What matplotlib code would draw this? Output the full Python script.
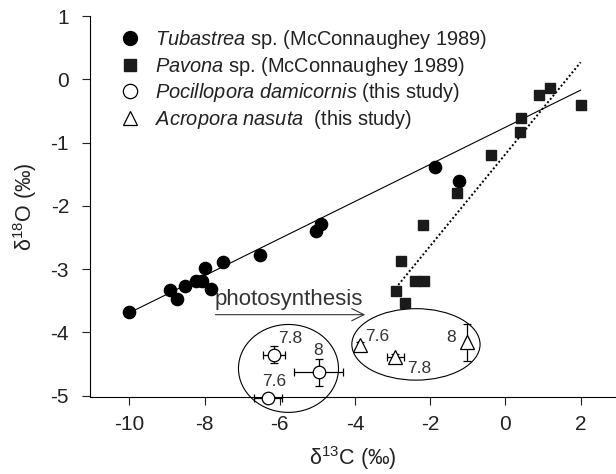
import matplotlib.pyplot as plt
from matplotlib.lines import Line2D
from matplotlib.patches import Ellipse

plt.rcParams["font.family"] = ["Liberation Sans", "DejaVu Sans"]
plt.rcParams["mathtext.fontset"] = "custom"
plt.rcParams["mathtext.rm"] = "Liberation Sans"
plt.rcParams["mathtext.it"] = "Liberation Sans:italic"

# Tubastrea sp. (McConnaughey 1989)
tub_c13 = [-10.02, -8.91, -8.73, -8.53, -8.22, -8.08, -8.0, -7.82, -7.52, -6.52, -5.03, -4.91, -1.87, -1.23]
tub_o18 = [-3.67, -3.33, -3.47, -3.27, -3.18, -3.18, -2.98, -3.32, -2.88, -2.78, -2.39, -2.28, -1.39, -1.60]

# Pavona sp. (McConnaughey 1989)
pav_c13 = [-1.29, -2.18, -2.78, -2.40, -2.16, -2.91, -2.67, -0.38, 0.39, 0.41, 0.89, 1.18, 2.0]
pav_o18 = [-1.80, -2.31, -2.87, -3.18, -3.18, -3.35, -3.53, -1.20, -0.83, -0.61, -0.25, -0.14, -0.40]

# Pocillopora damicornis (this study), pH 7.8 / 8 / 7.6
poc_c13 = [-6.15, -4.97, -6.31]
poc_o18 = [-4.35, -4.63, -5.04]
poc_xerr = [0.29, 0.64, 0.38]
poc_yerr = [0.13, 0.21, 0.05]
poc_ph = ["7.8", "8", "7.6"]

# Acropora nasuta (this study), pH 7.6 / 7.8 / 8
acr_c13 = [-3.88, -2.93, -1.03]
acr_o18 = [-4.20, -4.39, -4.16]
acr_xerr = [0.05, 0.22, 0.05]
acr_yerr = [0.04, 0.05, 0.29]
acr_ph = ["7.6", "7.8", "8"]

# regression lines (end points)
tub_fit_x, tub_fit_y = [-10.0, 2.0], [-3.69, -0.17]
pav_fit_x, pav_fit_y = [-2.85, 2.0], [-3.25, 0.27]

xticks = [-10, -8, -6, -4, -2, 0, 2]
yticks = [-5, -4, -3, -2, -1, 0, 1]

fig = plt.figure(figsize=(6.16, 4.74), dpi=100)
ax = fig.add_axes([0.146, 0.162, 0.854, 0.804])
FS_TICK = 15
FS_LEG = 14.4
FS_NUM = 12.5
FS_LAB = 15.5

ax.plot(tub_fit_x, tub_fit_y, color="black", lw=0.8)
ax.plot(pav_fit_x, pav_fit_y, color="black", lw=1.4, ls=(0, (1, 1.2)))

ax.plot(tub_c13, tub_o18, "o", color="black", ms=8.8, mec="black", ls="none")
ax.plot(pav_c13, pav_o18, "s", color="#1a1a1a", ms=7.8, mec="#1a1a1a", ls="none")

ax.errorbar(poc_c13, poc_o18, xerr=poc_xerr, yerr=poc_yerr, fmt="o", ms=9, mfc="white",
            mec="black", mew=0.9, ecolor="black", elinewidth=0.9, capsize=3, clip_on=False, zorder=4)
ax.errorbar(acr_c13, acr_o18, xerr=acr_xerr, yerr=acr_yerr, fmt="^", ms=10, mfc="white",
            mec="black", mew=0.9, ecolor="black", elinewidth=0.9, capsize=3, zorder=4)

# pH labels next to each coral point
poc_off = [(11.5, 11.5), (0, 16), (4.5, 12)]
for x, y, t, off in zip(poc_c13, poc_o18, poc_ph, poc_off):
    ax.annotate(t, (x, y), xytext=off, textcoords="offset points", ha="center", va="center",
                fontsize=FS_NUM, color="#333333", annotation_clip=False)
acr_off = [(13, 6), (17, -8), (-11.5, 3.6)]
for x, y, t, off in zip(acr_c13, acr_o18, acr_ph, acr_off):
    ax.annotate(t, (x, y), xytext=off, textcoords="offset points", ha="center", va="center",
                fontsize=FS_NUM, color="#333333", annotation_clip=False)

ax.add_patch(Ellipse((-5.77, -4.57), 2.66, 1.39, fill=False, lw=0.8, clip_on=False))
ax.add_patch(Ellipse((-2.38, -4.19), 3.41, 1.13, fill=False, lw=0.8, clip_on=False))

ax.annotate("", xy=(-3.73, -3.72), xytext=(-7.71, -3.72),
            arrowprops=dict(arrowstyle="->", lw=0.8, color="#333333",
                            shrinkA=0, shrinkB=0, mutation_scale=22))
ax.text(-7.73, -3.56, "photosynthesis", fontsize=16, color="#333333", va="baseline")

handles = [
    Line2D([], [], marker="o", color="black", ls="none", ms=10),
    Line2D([], [], marker="s", color="#1a1a1a", ls="none", ms=8.4),
    Line2D([], [], marker="o", mfc="white", mec="black", mew=0.9, ls="none", ms=10.3),
    Line2D([], [], marker="^", mfc="white", mec="black", mew=0.9, ls="none", ms=10.5),
]
labels = [
    r"$\it{Tubastrea}$ sp. (McConnaughey 1989)",
    r"$\it{Pavona}$ sp. (McConnaughey 1989)",
    r"$\it{Pocillopora\ damicornis}$ (this study)",
    r"$\it{Acropora\ nasuta}$  (this study)",
]
leg = ax.legend(handles, labels, loc="upper left", bbox_to_anchor=(0.042, 0.99), frameon=False,
                fontsize=FS_LEG, handlelength=1.0, handletextpad=0.75, labelspacing=0.18,
                borderaxespad=0)
for t in leg.get_texts():
    t.set_color("#222222")

ax.set_xlim(-11.05, 2.94)
ax.set_ylim(-5.025, 1.0)
ax.set_xticks(xticks, [str(v) for v in xticks])
ax.set_yticks(yticks, [str(v) for v in yticks])
ax.tick_params(labelsize=FS_TICK, length=6, width=0.8, direction="out", colors="#222222")
ax.tick_params(axis="x", pad=7)
ax.tick_params(axis="y", pad=9)
for side in ("top", "right"):
    ax.spines[side].set_visible(False)
for side in ("left", "bottom"):
    ax.spines[side].set_linewidth(0.8)

ax.set_xlabel("δ$^{13}$C (‰)", fontsize=FS_LAB, color="#222222", labelpad=7)
ax.set_ylabel("δ$^{18}$O (‰)", fontsize=FS_LAB, color="#222222", labelpad=8)

fig.savefig("out.png", dpi=100)
